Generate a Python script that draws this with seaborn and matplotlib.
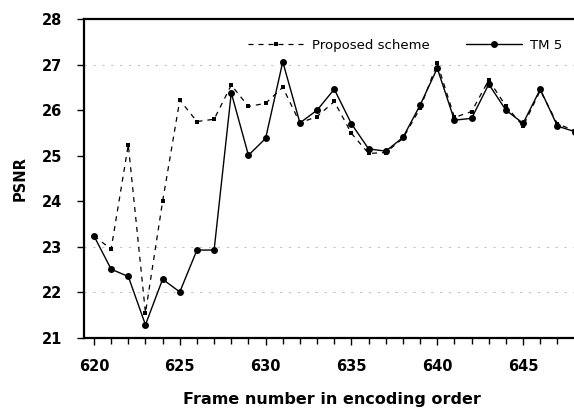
import numpy as np
import pandas as pd
import seaborn as sns
import matplotlib
matplotlib.use("Agg")
import matplotlib.pyplot as plt
from matplotlib.ticker import MultipleLocator

frames = list(range(620, 649))
proposed = [23.24, 22.95, 25.24, 21.55, 24.00, 26.22, 25.75, 25.80, 26.55, 26.08,
            26.15, 26.50, 25.72, 25.86, 26.19, 25.49, 25.05, 25.07, 25.38, 26.04,
            27.03, 25.84, 25.97, 26.66, 26.09, 25.65, 26.43, 25.70, 25.55]
tm5 = [23.24, 22.51, 22.35, 21.29, 22.29, 22.01, 22.93, 22.93, 26.38, 25.01,
       25.38, 27.06, 25.72, 26.00, 26.46, 25.70, 25.15, 25.10, 25.40, 26.11,
       26.92, 25.78, 25.82, 26.57, 26.00, 25.71, 26.46, 25.65, 25.53]
series_names = ["Proposed scheme", "TM 5"]
x_label = "Frame number in encoding order"
y_label = "PSNR"

df = pd.DataFrame({"frame": frames * 2,
                   "psnr": proposed + tm5,
                   "series": [series_names[0]] * len(frames) + [series_names[1]] * len(frames)})

sns.set_style("white")
plt.rcParams["font.family"] = ["DejaVu Sans"]
plt.rcParams["text.color"] = "black"
plt.rcParams["xtick.color"] = "black"
plt.rcParams["ytick.color"] = "black"

fig = plt.figure(figsize=(5.74, 4.13), dpi=100)
ax = fig.add_axes([84 / 574, 1 - 338 / 413, 1 - 84 / 574 + 0.01, (338 - 19) / 413])

for yv in [22, 23, 27]:
    ax.axhline(yv, color="#c4c4c4", lw=0.8, ls=(0, (2, 6)), zorder=0)

sns.lineplot(data=df[df.series == series_names[0]], x="frame", y="psnr", ax=ax,
             color="black", lw=0.9, linestyle=(0, (4, 4)), marker="s", markersize=3.5,
             markeredgewidth=0, label=series_names[0])
sns.lineplot(data=df[df.series == series_names[1]], x="frame", y="psnr", ax=ax,
             color="black", lw=1.0, marker="o", markersize=5,
             markeredgewidth=0, label=series_names[1])

ax.set_xlim(619.42, 648.3)
ax.set_ylim(21, 28)
ax.xaxis.set_major_locator(MultipleLocator(5))
ax.xaxis.set_minor_locator(MultipleLocator(1))
ax.yaxis.set_major_locator(MultipleLocator(1))
ax.tick_params(axis="both", which="major", direction="out", length=5, width=1,
               labelsize=10.5, color="black", labelcolor="black")
ax.tick_params(axis="y", which="major", pad=11)
ax.tick_params(axis="x", which="minor", direction="out", length=4, width=1, color="black")
ax.tick_params(axis="x", which="major", pad=10)
ax.tick_params(left=True, bottom=True, which="both")
for lab in ax.get_xticklabels() + ax.get_yticklabels():
    lab.set_fontweight("bold")

for s in ["left", "bottom", "top"]:
    ax.spines[s].set_visible(True)
    ax.spines[s].set_color("black")
    ax.spines[s].set_linewidth(1.6)
ax.spines["right"].set_visible(False)

ax.set_xlabel(x_label, fontsize=11.5, fontweight="bold", color="black")
ax.set_ylabel(y_label, fontsize=10.5, fontweight="bold", color="black")
axw = 574 * (1 - 84 / 574 + 0.01)
ax.xaxis.set_label_coords((332 - 84) / axw, -0.168)
ax.yaxis.set_label_coords((20 - 84) / axw, 0.5)
ax.yaxis.label.set_verticalalignment("center")

leg = ax.legend(loc="upper right", bbox_to_anchor=(1.0 - 6 / axw, 0.975), ncol=2, frameon=False,
                handlelength=4.2, columnspacing=2.8, handletextpad=0.6, fontsize=9.5)

fig.savefig("out.png", dpi=100)
